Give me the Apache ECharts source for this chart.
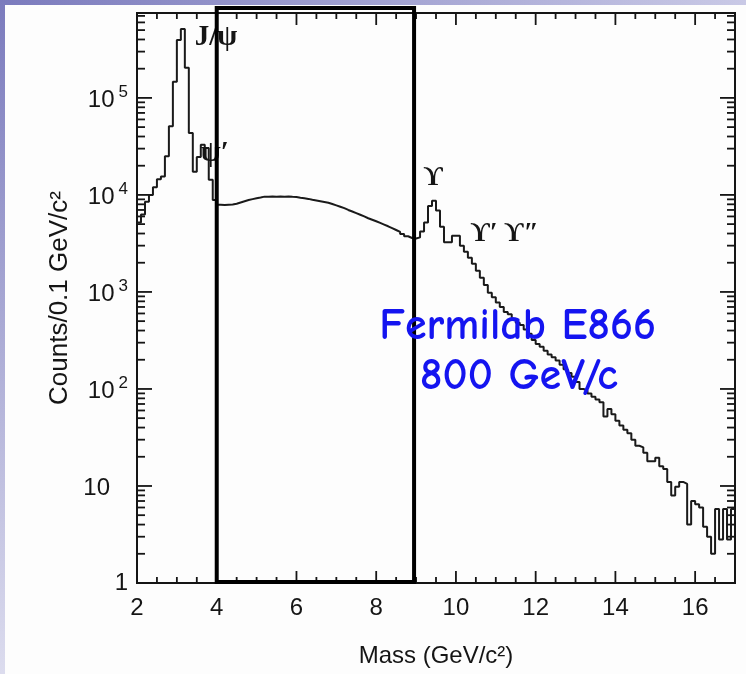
<!DOCTYPE html>
<html>
<head>
<meta charset="utf-8">
<script src="https://cdn.jsdelivr.net/npm/echarts@6/dist/echarts.min.js"></script>
<style>
  html, body { margin: 0; padding: 0; width: 746px; height: 674px; overflow: hidden; background: #fdfdfd; }
  #edgeTop { position: absolute; left: 0; top: 0; width: 746px; height: 5px; background: linear-gradient(to right, #7b7bbd, #c9c9e6); }
  #edgeLeft { position: absolute; left: 0; top: 0; width: 5px; height: 674px; background: linear-gradient(to bottom, #7b7bbd, #dcdcee); }
  #chart { position: absolute; left: 0; top: 0; width: 746px; height: 674px; }
</style>
</head>
<body>
<div id="edgeTop"></div>
<div id="edgeLeft"></div>
<div id="chart"></div>
<script>
// Dimuon invariant-mass spectrum, counts per 0.1 GeV/c^2 bin (bins start at 2.0 GeV/c^2)
const massStart = 2.0;
const binWidth = 0.1;
const massEnd = 17.0;

// 2.0 – 3.9 : J/psi and psi' region
const charmonium = [5200, 6300, 8500, 10000, 12000, 14500, 15500, 25000, 51000, 147000,
                    396000, 514000, 204000, 43600, 17300, 24600, 32800, 30500, 14300, 8880];
// 4.0 – 8.8 : continuum
const continuum = [7900, 7850, 7900, 7950, 8100, 8350, 8600, 8850, 9050, 9250,
                   9400, 9600, 9550, 9650, 9600, 9650, 9600, 9620, 9550, 9500,
                   9350, 9250, 9100, 8900, 8750, 8600, 8450, 8300, 8050, 7800,
                   7550, 7300, 7000, 6750, 6500, 6250, 6000, 5750, 5550, 5350,
                   5150, 4950, 4750, 4550, 4350, 4150, 3950, 3750, 3600];
// 8.9 – 10.0 : Upsilon family
const bottomonium = [3550, 3650, 4200, 5200, 7700, 8700, 6900, 4700, 3250, 3250, 3800, 3800];
// 10.1 – 16.9 : high-mass tail
const highMass = [3000, 2600, 2250, 1950, 1650, 1400, 1180, 980, 880,
                  780, 700, 620, 590, 530, 480, 455, 410, 370, 320,
                  290, 272, 248, 226, 212, 196, 178, 160, 146, 134,
                  118, 100, 96, 90, 83, 78, 73, 52, 62, 55,
                  47, 42, 38, 35, 30, 26, 25, 22, 18, 18,
                  19.5, 16, 15, 11, 8, 9.8, 11, 10.5, 4, 7,
                  6.5, 6, 3.8, 3, 2, 5.8, 2.8, 5.8, 2.8, 5.8];

// Axis ticks
const xTicks = [2, 4, 6, 8, 10, 12, 14, 16];
const xMinorStep = 0.5;
const yMax = 750000;
const yMajor = [1, 10, 100, 1000, 10000, 100000];
const yMinorSteps = [2, 3, 4, 5, 6, 7, 8, 9];

// Peak labels and the highlighted mass window
const peakLabels = [
  { text: 'J/\u03c8', mass: 3.98, count: 420000, size: 29 },
  { text: '\u03c8\u2032', mass: 3.95, count: 27000, size: 29 },
  { text: '\u03d2', mass: 9.43, count: 15000, size: 27 },
  { text: '\u03d2\u2032 \u03d2\u2033', mass: 11.22, count: 3950, size: 27 }
];
const windowLow = 4.0;
const windowHigh = 8.95;
const experimentLines = ['Fermilab E866', '800 GeV/c'];
const experimentAt = [{ mass: 11.55, count: 440 }, { mass: 11.58, count: 133 }];

const counts = charmonium.concat(continuum, bottomonium, highMass);
const histData = counts.map((c, i) => [+(massStart + i * binWidth).toFixed(2), c]);
histData.push([massEnd, counts[counts.length - 1]]);

// Tick rows for the frame: [mass, count, length, kind]  kind 0 = mass tick, 1 = count tick
const TICK_MAJOR_X = 12, TICK_MINOR_X = 6, TICK_MAJOR_Y = 15, TICK_MINOR_Y = 8;
const tickRows = [];
for (let m = 2; m <= 17.001; m += xMinorStep) {
  const mm = +m.toFixed(2);
  tickRows.push([mm, 1, xTicks.indexOf(mm) >= 0 ? TICK_MAJOR_X : TICK_MINOR_X, 0]);
}
yMajor.forEach(d => {
  tickRows.push([2, d, TICK_MAJOR_Y, 1]);
  yMinorSteps.forEach(s => { if (d * s < yMax) tickRows.push([2, d * s, TICK_MINOR_Y, 1]); });
});

const sans = '"Liberation Sans", Arial, sans-serif';
const ink = '#151515';

const chart = echarts.init(document.getElementById('chart'));

// Draws one tick pair (both opposite frame sides) for a mass or count value
function renderTick(params, api) {
  const cs = params.coordSys;
  const len = api.value(2);
  const style = { stroke: ink, lineWidth: 1.8 };
  if (api.value(3) === 0) {
    const x = api.coord([api.value(0), 1])[0];
    return { type: 'group', children: [
      { type: 'line', shape: { x1: x, y1: cs.y + cs.height, x2: x, y2: cs.y + cs.height - len }, style: style },
      { type: 'line', shape: { x1: x, y1: cs.y, x2: x, y2: cs.y + len }, style: style }
    ] };
  }
  const y = api.coord([2, api.value(1)])[1];
  return { type: 'group', children: [
    { type: 'line', shape: { x1: cs.x, y1: y, x2: cs.x + len, y2: y }, style: style },
    { type: 'line', shape: { x1: cs.x + cs.width, y1: y, x2: cs.x + cs.width - len, y2: y }, style: style }
  ] };
}

chart.setOption({
  animation: false,
  grid: { left: 137, top: 13, width: 598, height: 570, show: true, borderColor: ink, borderWidth: 2,
          backgroundColor: 'rgba(0,0,0,0)' },
  xAxis: {
    type: 'value', min: 2, max: 17, interval: 2,
    splitLine: { show: false },
    axisLine: { show: true, onZero: false, lineStyle: { color: ink, width: 2 } },
    axisTick: { show: false },
    name: 'Mass (GeV/c\u00b2)', nameLocation: 'middle', nameGap: 61,
    nameTextStyle: { fontFamily: sans, fontSize: 24, color: ink },
    axisLabel: { margin: 13, fontFamily: sans, fontSize: 24, color: ink, customValues: xTicks }
  },
  yAxis: {
    type: 'log', logBase: 10, min: 1, max: yMax,
    splitLine: { show: false },
    axisLine: { show: true, lineStyle: { color: ink, width: 2 } },
    axisTick: { show: false },
    name: 'Counts/0.1 GeV/c\u00b2', nameLocation: 'middle', nameGap: 61,
    nameTextStyle: { fontFamily: sans, fontSize: 26, color: ink },
    axisLabel: {
      customValues: yMajor, margin: 9, color: ink,
      formatter: v => {
        const e = Math.round(Math.log10(v));
        if (e === 0) return '{b|1}';
        if (e === 1) return '{b|10}{p| }';
        return '{b|10}{s|' + e + '}';
      },
      rich: {
        b: { fontFamily: sans, fontSize: 24, color: ink, verticalAlign: 'bottom' },
        s: { fontFamily: sans, fontSize: 17, color: ink, verticalAlign: 'bottom', padding: [0, 0, 11, 4] },
        p: { fontFamily: sans, fontSize: 17, width: 14, verticalAlign: 'bottom', padding: [0, 0, 11, 4] }
      }
    }
  },
  series: [
    {
      type: 'custom',
      name: 'frame ticks',
      data: tickRows,
      renderItem: renderTick,
      silent: true,
      clip: false,
      z: 2
    },
    {
      type: 'line',
      name: 'dimuon',
      data: histData,
      step: 'end',
      showSymbol: false,
      lineStyle: { color: '#1a1a1a', width: 2 },
      z: 3
    }
  ]
});

// Peak names, experiment label and the highlighted mass window, placed through the axes
const toPx = (m, c) => chart.convertToPixel({ xAxisIndex: 0, yAxisIndex: 0 }, [m, c]);
const graphics = [];
peakLabels.forEach(p => {
  const [x, y] = toPx(p.mass, p.count);
  graphics.push({
    type: 'text', x: x, y: y, z: 10,
    style: { text: p.text, fill: ink, font: 'bold ' + p.size + 'px "Liberation Serif", "DejaVu Serif", serif',
             align: 'center', verticalAlign: 'middle' }
  });
});
experimentLines.forEach((t, i) => {
  const [x, y] = toPx(experimentAt[i].mass, experimentAt[i].count);
  graphics.push({
    type: 'text', x: x, y: y, z: 12,
    style: { text: t, fill: '#1414f0', font: 'bold 44px "Comic Sans MS", "Comic Neue", "DejaVu Sans", sans-serif',
             align: 'center', verticalAlign: 'middle' }
  });
});
const [bx0, by0] = toPx(windowLow, yMax);
const [bx1, by1] = toPx(windowHigh, 1);
graphics.push({
  type: 'rect', z: 11,
  shape: { x: bx0, y: by0 - 5, width: bx1 - bx0, height: by1 - by0 + 4 },
  style: { fill: 'none', stroke: '#000', lineWidth: 4 }
});
chart.setOption({ graphic: graphics });
</script>
</body>
</html>
